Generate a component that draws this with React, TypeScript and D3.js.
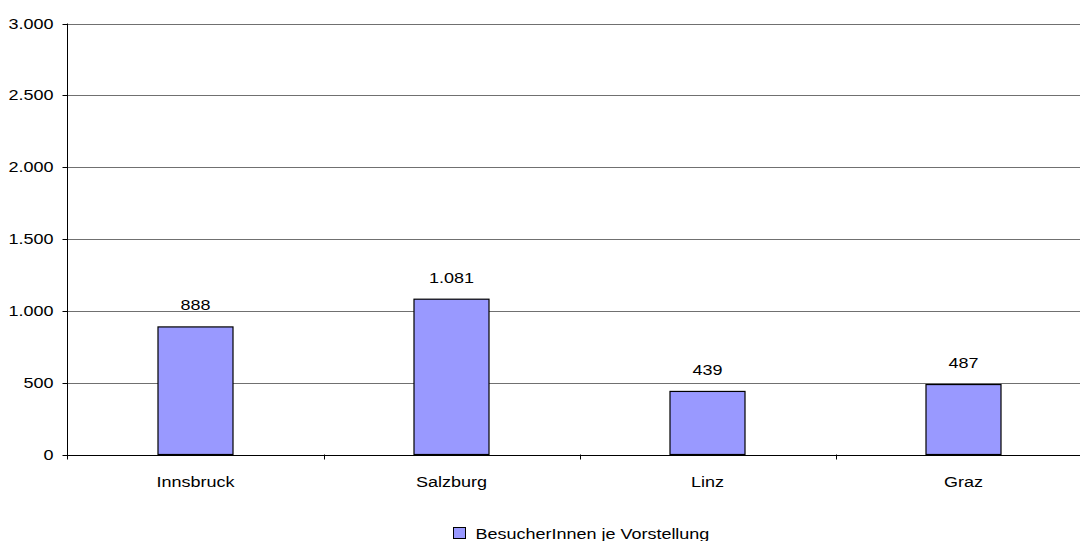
import React from "react";
import * as d3 from "d3";

const categories = ["Innsbruck", "Salzburg", "Linz", "Graz"];
const values = [888, 1081, 439, 487];
const yTicks = [0, 500, 1000, 1500, 2000, 2500, 3000];
const seriesName = "BesucherInnen je Vorstellung";

const W = 1080;
const H = 541;
const left = 67.5;
const right = 1091.5;
const top = 23.5;
const bottom = 454.5;
const stretch = 1.2;

const deLocale = d3.formatLocale({
  decimal: ",",
  thousands: ".",
  grouping: [3],
  currency: ["", " €"],
});
const fmt = deLocale.format(",d");

function Label({ x, y, anchor, children }: { x: number; y: number; anchor: "start" | "middle" | "end"; children: React.ReactNode }) {
  return (
    <text transform={`translate(${x},${y}) scale(${stretch},1)`} textAnchor={anchor} fontSize={15} fill="#000">
      {children}
    </text>
  );
}

export default function App() {
  const x = d3.scaleBand<string>().domain(categories).range([left, right]).paddingInner(0).paddingOuter(0);
  const y = d3.scaleLinear().domain([0, 3000]).range([bottom, top]);
  const barW = x.bandwidth() * 0.293;
  const font = "'Liberation Sans', Arial, sans-serif";
  const py = (v: number) => Math.round(y(v)) + 0.5;

  return (
    <svg
      width={W}
      height={H}
      style={{ position: "absolute", left: 0, top: 0, background: "#fff" }}
      fontFamily={font}
    >
      {/* gridlines */}
      {yTicks.map((t) => (
        <line key={"g" + t} x1={left} x2={right} y1={py(t)} y2={py(t)} stroke="#707070" strokeWidth={1} />
      ))}
      {/* y tick marks and labels */}
      {yTicks.map((t) => (
        <g key={"t" + t}>
          <line x1={left - 5} x2={left} y1={py(t)} y2={py(t)} stroke="#000" />
          <Label x={53.5} y={y(t) + 5} anchor="end">
            {fmt(t)}
          </Label>
        </g>
      ))}
      {/* bars with value labels */}
      {categories.map((c, i) => {
        const cx = (x(c) as number) + x.bandwidth() / 2;
        return (
          <g key={c}>
            <rect
              x={cx - barW / 2}
              y={y(values[i])}
              width={barW}
              height={y(0) - y(values[i])}
              fill="#9999FF"
              stroke="#000"
              strokeWidth={1.2}
            />
            <Label x={cx} y={y(values[i]) - 16.5} anchor="middle">
              {fmt(values[i])}
            </Label>
            <Label x={cx} y={486.5} anchor="middle">
              {c}
            </Label>
          </g>
        );
      })}
      {/* axes */}
      <line x1={left} x2={right} y1={py(0)} y2={py(0)} stroke="#000" />
      <line x1={left} x2={left} y1={top} y2={bottom + 5} stroke="#000" />
      {categories.map((c, i) =>
        i === 0 ? null : (
          <line
            key={"ct" + c}
            x1={Math.round(x(c) as number) + 0.5}
            x2={Math.round(x(c) as number) + 0.5}
            y1={bottom}
            y2={bottom + 5}
            stroke="#000"
          />
        )
      )}
      {/* legend */}
      <rect x={453.5} y={527.5} width={12} height={11} fill="#9999FF" stroke="#000" />
      <Label x={475.5} y={539} anchor="start">
        {seriesName}
      </Label>
    </svg>
  );
}
